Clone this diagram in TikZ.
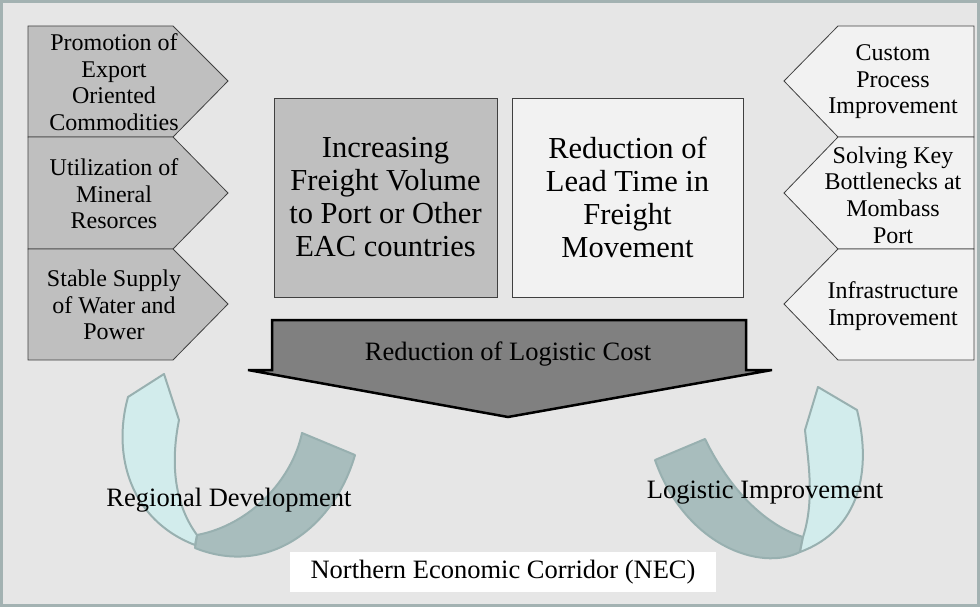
\documentclass[tikz,border=0pt]{standalone}
\usepackage{fontspec}
\setmainfont{Liberation Serif}
\usepackage{tikz}
\definecolor{bgfill}{HTML}{E6E6E6}
\definecolor{frame}{HTML}{A3B2B2}
\definecolor{midgray}{HTML}{BFBFBF}
\definecolor{palegray}{HTML}{F2F2F2}
\definecolor{costgray}{HTML}{808080}
\definecolor{ribbonlight}{HTML}{D2ECEC}
\definecolor{ribbondark}{HTML}{A8BDBD}
\definecolor{ribbonline}{HTML}{98B0B0}
\tikzset{every node/.style={align=center,inner sep=0pt}}
\tikzset{lbox/.style={draw=black!75,fill=midgray,line width=0.8pt}}
\tikzset{rbox/.style={draw=black!75,fill=palegray,line width=0.8pt}}
\tikzset{small/.style={font=\fontsize{24}{26.6}\selectfont}}
\tikzset{big/.style={font=\fontsize{30.5}{33}\selectfont}}
\tikzset{mid/.style={font=\fontsize{26.5}{30}\selectfont}}
\tikzset{rib/.style={draw=ribbonline,line width=2pt,line join=round}}

\begin{document}
\begin{tikzpicture}[x=1pt,y=-1pt]
      \useasboundingbox (0,0) rectangle (980,607);
      \draw[frame,fill=bgfill,line width=3pt] (1.5,1.5) rectangle (978.5,605.5);
      % left side
      \draw[lbox] (28,26) -- (173,26) -- (228,81) -- (173,137) -- (28,137) -- cycle;
      \draw[lbox] (28,137) -- (173,137) -- (228,193) -- (173,249) -- (28,249) -- cycle;
      \draw[lbox] (28,249) -- (173,249) -- (228,304) -- (173,360) -- (28,360) -- cycle;
      \node[small] (L1) at (114,82) {Promotion of\\Export\\Oriented\\Commodities};
      \node[small] (L2) at (114,194) {Utilization of\\Mineral\\Resorces};
      \node[small] (L3) at (114,305) {Stable Supply\\of Water and\\Power};
      % right side
      \draw[rbox] (974,26) -- (838,26) -- (784,81) -- (838,137) -- (974,137) -- cycle;
      \draw[rbox] (974,137) -- (838,137) -- (784,193) -- (838,249) -- (974,249) -- cycle;
      \draw[rbox] (974,249) -- (838,249) -- (784,304) -- (838,360) -- (974,360) -- cycle;
      \node[small] (R1) at (893,82) {Custom\\Process\\Improvement};
      \node[small] (R2) at (893,195) {Solving Key\\Bottlenecks at\\Mombass\\Port};
      \node[small] (R3) at (893,306) {Infrastructure\\Improvement};
      % centre
      \node[lbox,big,minimum width=223pt,minimum height=199pt] (V) at (385.5,197.5)
        {Increasing\\Freight Volume\\to Port or Other\\EAC countries};
      \node[rbox,big,minimum width=231pt,minimum height=199pt] (T) at (627.5,197.5)
        {Reduction of\\Lead Time in\\Freight\\Movement};
      \draw[fill=costgray,line width=2.5pt,line join=miter] (272,320) -- (746,320) -- (746,370)
        -- (772,370) -- (508,417) -- (248,370) -- (272,370) -- cycle;
      \node[mid] (C) at (508,354) {Reduction of Logistic Cost};
      % ribbons
      \draw[rib,fill=ribbondark] (197,535) .. controls (250,525) and (292,480) .. (302,433)
        -- (355,455) .. controls (335,525) and (270,578) .. (195,548) -- cycle;
      \draw[rib,fill=ribbonlight] (164,374) -- (128,397) .. controls (112,455) and (130,520) .. (195,545)
        -- (197,535) .. controls (175,505) and (170,465) .. (179,420) -- cycle;
      \draw[rib,fill=ribbondark] (655,460) -- (705,439) .. controls (730,490) and (765,525) .. (803,537)
        -- (800,552) .. controls (760,572) and (685,545) .. (655,460) -- cycle;
      \draw[rib,fill=ribbonlight] (818,387) -- (857,410) .. controls (872,470) and (860,530) .. (800,552)
        -- (803,537) .. controls (815,500) and (808,460) .. (805,430) -- cycle;
      \node[mid] (RD) at (229,500) {Regional Development};
      \node[mid] (LI) at (765,493) {Logistic Improvement};
      \node[mid,fill=white,minimum width=426pt,minimum height=40pt] (NEC) at (503,572)
        {Northern Economic Corridor (NEC)};
\end{tikzpicture}
\end{document}
